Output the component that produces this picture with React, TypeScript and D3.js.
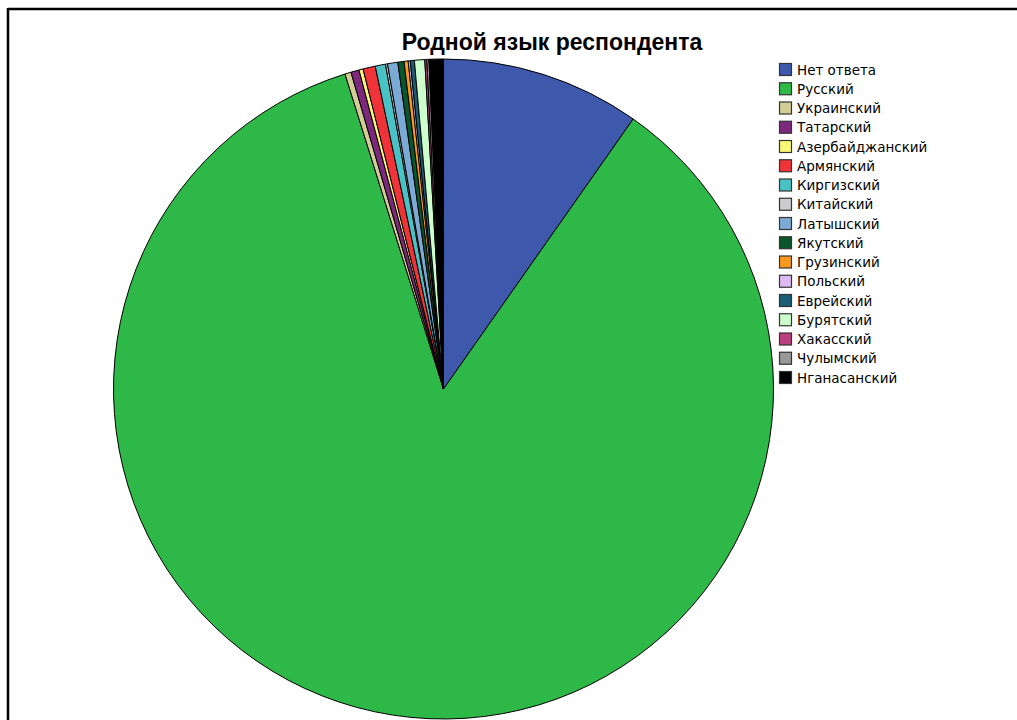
import React from "react";
import * as d3 from "d3";

const categories = [
  "Нет ответа", "Русский", "Украинский", "Татарский", "Азербайджанский",
  "Армянский", "Киргизский", "Китайский", "Латышский", "Якутский",
  "Грузинский", "Польский", "Еврейский", "Бурятский", "Хакасский",
  "Чулымский", "Нганасанский",
];
const counts = [97, 850, 3, 4, 2, 6, 5, 1, 5, 3, 2, 1, 2, 5, 1, 1, 7];
const colors = [
  "#3E58AC", "#2EB848", "#D3CE97", "#7C287D", "#FBF873",
  "#EF3338", "#48C2C5", "#CCCCCC", "#7AAAD5", "#0A562C",
  "#F8981D", "#DDBAF1", "#1A5F76", "#CCFFCC", "#BB3F7F",
  "#999999", "#000000",
];
const title = "Родной язык респондента";

export default function App() {
  const W = 1017, H = 720;
  const cx = 443.5, cy = 389, R = 330;
  const data = categories.map((c, i) => ({ c, v: counts[i], col: colors[i] }));
  const pie = d3.pie<any>().value((d) => d.v).sort(null);
  const arc = d3.arc<any>().innerRadius(0).outerRadius(R);
  const arcs = pie(data);
  const legX = 779, legY0 = 63, legStep = 19.25;
  return (
    <svg width={W} height={H} style={{ position: "absolute", left: 0, top: 0, background: "#fff" }}>
      <rect x={0} y={0} width={W} height={H} fill="#fff" />
      <line x1={8} y1={9} x2={W} y2={9} stroke="#000" strokeWidth={2.5} />
      <line x1={8} y1={8} x2={8} y2={H} stroke="#000" strokeWidth={2.5} />
      <text x={552} y={50} textAnchor="middle" fontFamily="Liberation Sans, Arial, sans-serif" fontWeight="bold" fontSize={23} fill="#000">
        {title}
      </text>
      <g transform={`translate(${cx},${cy})`}>
        {arcs.map((a, i) => (
          <path key={i} d={arc(a) as string} fill={a.data.col} stroke="#000" strokeWidth={1} strokeLinejoin="round" />
        ))}
      </g>
      <g>
        {data.map((d, i) => (
          <g key={i} transform={`translate(${legX},${legY0 + i * legStep})`}>
            <rect x={0.5} y={0.5} width={12} height={12} fill={d.col} stroke="#333" strokeWidth={1.2} />
            <text x={18} y={11.5} fontFamily="DejaVu Sans, sans-serif" fontSize={13.5} fill="#000">
              {d.c}
            </text>
          </g>
        ))}
      </g>
    </svg>
  );
}
